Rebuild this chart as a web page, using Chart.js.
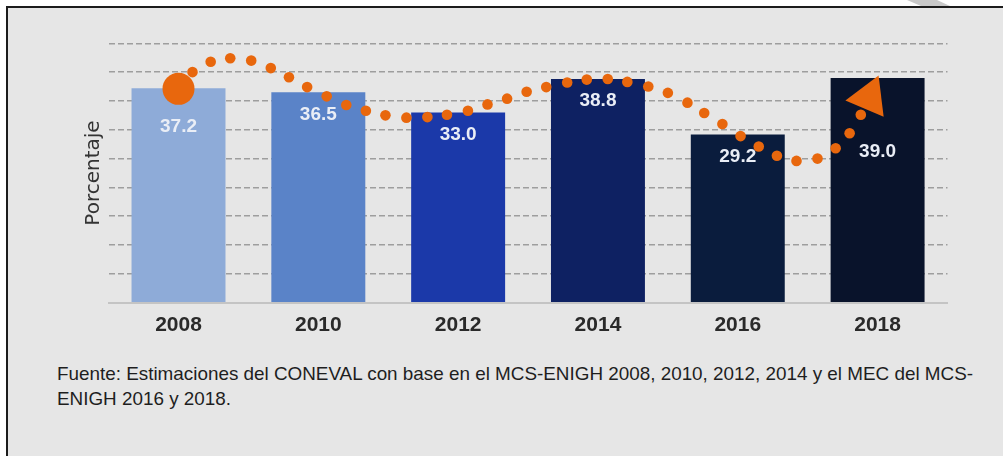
<!DOCTYPE html>
<html>
<head>
<meta charset="utf-8">
<script src="https://cdn.jsdelivr.net/npm/chart.js@4.4.1/dist/chart.umd.min.js"></script>
<style>
  html, body { margin: 0; padding: 0; width: 1003px; height: 456px; overflow: hidden; background: #fff; }
  #marco { position: absolute; left: 6px; top: 6px; width: 1010px; height: 460px; background: #e6e6e6;
           border-top: 2px solid #1c1c1c; border-left: 2px solid #1c1c1c; }
  #marca { position: absolute; left: 0; top: 0; width: 1003px; height: 7px; background: #c9c9c9;
           clip-path: polygon(907px 0, 937px 0, 950px 6px, 921px 6px); }
  #grafica { position: absolute; left: 0; top: 0; width: 1003px; height: 345px; }
  #fuente { position: absolute; left: 57px; top: 361px; font: 18.5px 'Liberation Sans', Arial, sans-serif;
            line-height: 25px; color: #1e1e1e; white-space: nowrap; transform-origin: 0 0; }
</style>
</head>
<body>
<div id="marco"></div>
<div id="marca"></div>
<div id="grafica"><canvas id="lienzo"></canvas></div>
<div id="fuente"><span id="linea1">Fuente: Estimaciones del CONEVAL con base en el MCS-ENIGH 2008, 2010, 2012, 2014 y el MEC del MCS-</span><br>ENIGH 2016 y 2018.</div>

<script>
// datos de la gráfica
const anios = ['2008', '2010', '2012', '2014', '2016', '2018'];
const porcentaje = [37.2, 36.5, 33.0, 38.8, 29.2, 39.0];
const yMax = 45;
const yPaso = 5;

// flecha punteada naranja: cada punto (x = posición de año 0..5, y = porcentaje)
const flechaX = [0.00, 0.10, 0.23, 0.37, 0.52, 0.66, 0.79, 0.92, 1.06, 1.20, 1.34, 1.48, 1.63, 1.78, 1.92,
                 2.07, 2.21, 2.35, 2.49, 2.63, 2.78, 2.92, 3.07, 3.21, 3.36, 3.50, 3.64, 3.76, 3.89, 4.02,
                 4.15, 4.28, 4.42, 4.57, 4.70, 4.80, 4.88, 4.94];
const flechaY = [37.1, 40.0, 41.8, 42.4, 42.0, 40.7, 39.1, 37.4, 35.8, 34.3, 33.3, 32.5, 32.1, 32.2, 32.6,
                 33.3, 34.4, 35.4, 36.6, 37.4, 38.2, 38.7, 38.8, 38.3, 37.5, 36.4, 34.7, 32.9, 31.0, 28.9,
                 27.1, 25.5, 24.6, 25.0, 26.8, 29.4, 32.6, 35.6];

const coloresBarra = ['#8eabd8', '#5a83c8', '#1b39a9', '#0e2162', '#0a1c3d', '#09132b'];
const naranja = '#e8670d';
const ultimo = flechaX.length - 1;

// etiquetas blancas dentro de cada barra
const etiquetas = {
    id: 'etiquetas',
    afterDatasetDraw(chart, args, opts) {
        if (args.index !== 0) return;
        const ctx = chart.ctx;
        ctx.save();
        ctx.font = 'bold 19px "Liberation Sans", Arial, sans-serif';
        ctx.fillStyle = '#eaeef6';
        ctx.textAlign = 'center';
        ctx.textBaseline = 'middle';
        args.meta.data.forEach((barra, i) => {
            ctx.fillText(porcentaje[i].toFixed(1), barra.x, barra.y + opts.bajada[i]);
        });
        ctx.restore();
    }
};

new Chart(document.getElementById('lienzo'), {
    type: 'bar',
    data: {
        labels: anios,
        datasets: [{
            type: 'bar',
            data: porcentaje,
            backgroundColor: coloresBarra,
            borderWidth: 0,
            grouped: false,
            barPercentage: 0.672,
            categoryPercentage: 1,
            order: 2
        }, {
            type: 'scatter',
            xAxisID: 'xf',
            data: flechaX.map((x, i) => ({ x: x, y: flechaY[i] })),
            backgroundColor: naranja,
            borderColor: naranja,
            borderWidth: 0,
            pointRadius: c => c.dataIndex === 0 ? 16 : (c.dataIndex === ultimo ? 24 : 5.3),
            pointStyle: c => c.dataIndex === ultimo ? 'triangle' : 'circle',
            rotation: c => c.dataIndex === ultimo ? 23 : 0,
            showLine: false,
            clip: false,
            order: 1
        }]
    },
    options: {
        responsive: true,
        maintainAspectRatio: false,
        animation: false,
        events: [],
        layout: { padding: { left: 79, right: 55.5, top: 43.3, bottom: 0 } },
        plugins: {
            legend: { display: false },
            tooltip: { enabled: false },
            etiquetas: { bajada: [39, 22, 22, 22, 22, 74] }
        },
        scales: {
            x: {
                type: 'category',
                offset: true,
                grid: { display: false, drawTicks: false },
                border: { display: true, color: '#c4c4c4', width: 2 },
                ticks: {
                    color: '#2a2a2a',
                    padding: 10,
                    font: { family: "'Liberation Sans', Arial, sans-serif", size: 21, weight: 'bold' }
                },
                afterFit: s => { s.height = 42.3; }
            },
            xf: { type: 'linear', display: false, offset: false, min: -0.5, max: 5.5 },
            y: {
                min: 0,
                max: yMax,
                ticks: { display: false, stepSize: yPaso },
                grid: {
                    drawTicks: false,
                    lineWidth: 1.5,
                    color: c => c.tick && c.tick.value === 0 ? 'rgba(0,0,0,0)' : '#9e9e9e'
                },
                border: { display: false, dash: [6, 3] },
                title: {
                    display: true,
                    text: 'Porcentaje',
                    color: '#333',
                    padding: { top: 3, bottom: 3 },
                    font: { family: "'DejaVu Sans', sans-serif", size: 20 }
                },
                afterFit: s => { s.width = 29.6; }
            }
        }
    },
    plugins: [etiquetas]
});

// la nota al pie ocupa el mismo ancho que en la imagen
const linea1 = document.getElementById('linea1');
const fuente = document.getElementById('fuente');
fuente.style.transform = 'scaleX(' + (916 / linea1.getBoundingClientRect().width) + ')';
</script>
</body>
</html>
